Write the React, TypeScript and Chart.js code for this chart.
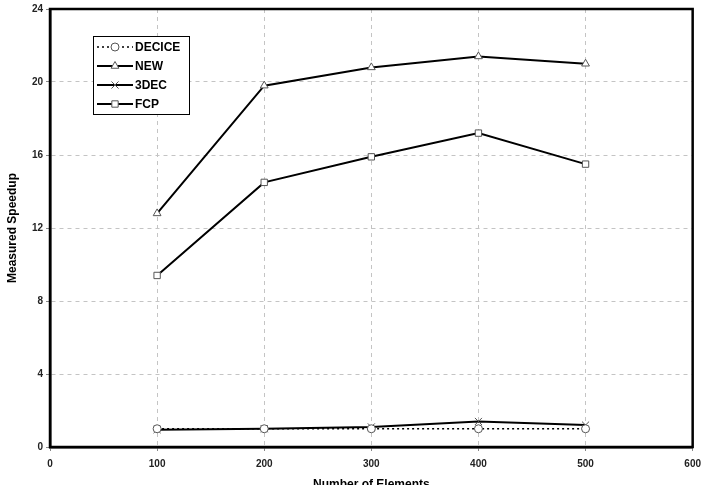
import React, { useEffect, useRef } from "react";
import { Chart, registerables } from "chart.js";
import { drawPoint } from "chart.js/helpers";

Chart.register(...registerables);

const xValues = [100, 200, 300, 400, 500];
const deciceValues = [1.0, 1.0, 1.0, 1.0, 1.0];
const newValues = [12.8, 19.8, 20.8, 21.4, 21.0];
const dec3Values = [0.95, 1.0, 1.1, 1.4, 1.2];
const fcpValues = [9.4, 14.5, 15.9, 17.2, 15.5];
const seriesNames = ["DECICE", "NEW", "3DEC", "FCP"];
const xTitle = "Number of Elements";
const yTitle = "Measured Speedup";

const FONT = "'Liberation Sans', Arial, sans-serif";

const framePlugin = {
  id: "frame",
  afterDatasetsDraw(chart: any) {
    const { ctx, chartArea: a } = chart;
    ctx.save();
    ctx.strokeStyle = "#000";
    ctx.lineWidth = 2.5;
    ctx.strokeRect(a.left, a.top, a.right - a.left, a.bottom - a.top);
    ctx.restore();
  },
};

const legendPlugin = {
  id: "boxLegend",
  afterDraw(chart: any) {
    const ctx = chart.ctx;
    const x0 = 93, y0 = 36, w = 96, h = 78;
    ctx.save();
    ctx.fillStyle = "#fff";
    ctx.fillRect(x0, y0, w, h);
    ctx.strokeStyle = "#000";
    ctx.lineWidth = 1;
    ctx.strokeRect(x0 + 0.5, y0 + 0.5, w, h);
    const rows = [47, 66, 85, 104];
    chart.data.datasets.forEach((ds: any, i: number) => {
      const y = rows[i];
      ctx.save();
      ctx.strokeStyle = "#000";
      ctx.lineWidth = ds.borderWidth;
      ctx.setLineDash(ds.borderDash || []);
      ctx.beginPath();
      ctx.moveTo(97, y);
      ctx.lineTo(133, y);
      ctx.stroke();
      ctx.restore();
      ctx.save();
      ctx.strokeStyle = ds.pointBorderColor;
      ctx.fillStyle = "#fff";
      ctx.lineWidth = 1;
      drawPoint(ctx, { pointStyle: ds.pointStyle, radius: ds.pointRadius, borderWidth: 1, rotation: 0 } as any, 115, y);
      ctx.restore();
      ctx.fillStyle = "#000";
      ctx.font = `bold 12px ${FONT}`;
      ctx.textBaseline = "middle";
      ctx.textAlign = "left";
      ctx.fillText(ds.label, 135, y + 0.5);
    });
    ctx.restore();
  },
};

export default function App() {
  const ref = useRef<HTMLCanvasElement>(null);
  useEffect(() => {
    if (!ref.current) return;
    const mk = (i: number, vals: number[], style: string, radius: number, dash: number[] | undefined, bw: number) => ({
      label: seriesNames[i],
      data: xValues.map((x, k) => ({ x, y: vals[k] })),
      borderColor: "#000",
      borderWidth: bw,
      borderDash: dash,
      pointStyle: style,
      pointRadius: radius,
      pointBorderColor: "#555",
      pointBackgroundColor: "#fff",
      pointBorderWidth: 1,
      tension: 0,
      fill: false,
    });
    const datasets = [
      mk(0, deciceValues, "circle", 4, [2, 3], 1.5),
      mk(1, newValues, "triangle", 4.5, undefined, 2),
      mk(2, dec3Values, "crossRot", 5, undefined, 2),
      mk(3, fcpValues, "rect", 4.5, undefined, 2),
    ];
    const grid = {
      color: "#c4c4c4",
      lineWidth: 1,
      tickLength: 4,
      tickColor: "#888",
      tickBorderDash: [],
    };
    const border = { color: "#000", width: 2.5, dash: [4, 4] };
    const chart = new Chart(ref.current, {
      type: "line",
      data: { datasets: datasets as any },
      plugins: [framePlugin, legendPlugin],
      options: {
        animation: false,
        responsive: false,
        maintainAspectRatio: false,
        layout: { padding: { left: 0, top: 9, right: 14, bottom: 0 } },
        plugins: { legend: { display: false }, tooltip: { enabled: false } },
        scales: {
          x: {
            type: "linear",
            min: 0,
            max: 600,
            border,
            grid: grid as any,
            ticks: { stepSize: 100, color: "#222", padding: 7, font: { family: FONT, size: 10, weight: "bold" } },
            title: { display: true, text: xTitle, color: "#000", padding: { top: 0, bottom: 3 }, font: { family: FONT, size: 12, weight: "bold" } },
            afterFit: (s: any) => { s.height = 48; },
          },
          y: {
            type: "linear",
            min: 0,
            max: 24,
            border,
            grid: grid as any,
            ticks: { stepSize: 4, color: "#222", padding: 3, font: { family: FONT, size: 10, weight: "bold" } },
            title: { display: true, text: yTitle, color: "#000", padding: { top: 5, bottom: 0 }, font: { family: FONT, size: 12, weight: "bold" } },
            afterFit: (s: any) => { s.width = 50; },
          },
        },
      } as any,
    });
    return () => chart.destroy();
  }, []);
  return (
    <div style={{ position: "fixed", left: 0, top: 0, width: 708, height: 485, overflow: "hidden", background: "#fff" }}>
      <canvas ref={ref} width={708} height={495} style={{ display: "block", width: 708, height: 495 }} />
    </div>
  );
}
